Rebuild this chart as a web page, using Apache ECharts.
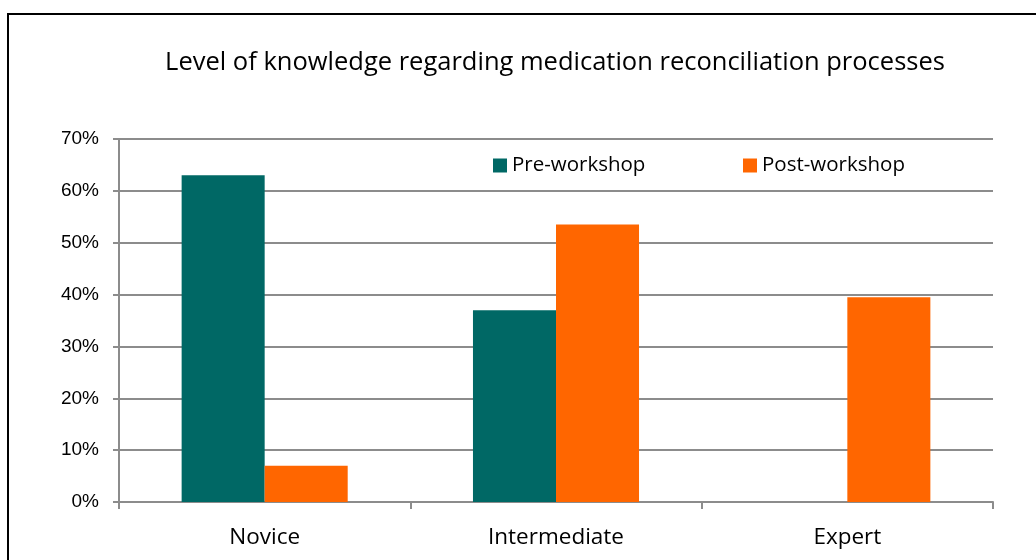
<!DOCTYPE html>
<html>
<head>
<meta charset="utf-8">
<script src="https://cdn.jsdelivr.net/npm/echarts@6/dist/echarts.min.js"></script>
<style>
  html, body { margin: 0; padding: 0; background: #fff; }
  #main { width: 1036px; height: 560px; }
</style>
</head>
<body>
<div id="main"></div>
<script>
const categories = ['Novice', 'Intermediate', 'Expert']
const preWorkshop = [0.63, 0.37, 0]
const postWorkshop = [0.07, 0.535, 0.395]
const yTicks = [0, 0.1, 0.2, 0.3, 0.4, 0.5, 0.6, 0.7]

const chart = echarts.init(document.getElementById('main'))
const gray = '#8c8c8c'
const sans = '"Open Sans", sans-serif'

chart.setOption({
  animation: false,
  title: {
    text: 'Level of knowledge regarding medication reconciliation processes',
    left: 550,
    textAlign: 'center',
    top: 45,
    textStyle: { fontFamily: sans, fontWeight: 'normal', fontSize: 25.5, color: '#000' }
  },
  legend: [
    {
      data: ['Pre-workshop'], left: 493, top: 155, padding: 0, itemWidth: 14, itemHeight: 14, itemGap: 6,
      icon: 'rect', textStyle: { fontFamily: sans, fontSize: 20.5, color: '#000' }
    },
    {
      data: ['Post-workshop'], left: 743, top: 155, padding: 0, itemWidth: 14, itemHeight: 14, itemGap: 6,
      icon: 'rect', textStyle: { fontFamily: sans, fontSize: 20.5, color: '#000' }
    }
  ],
  grid: { left: 119, right: 43, top: 139, bottom: 58 },
  xAxis: {
    type: 'category',
    data: categories,
    axisLine: { lineStyle: { color: gray, width: 2 } },
    axisTick: { show: true, length: 7, lineStyle: { color: gray, width: 2 } },
    axisLabel: { fontFamily: sans, fontSize: 22.5, color: '#000', margin: 24 }
  },
  yAxis: {
    type: 'value',
    min: yTicks[0],
    max: yTicks[yTicks.length - 1],
    interval: 0.1,
    axisLine: { show: true, lineStyle: { color: gray, width: 2 } },
    axisTick: { show: true, length: 6, lineStyle: { color: gray, width: 2 } },
    splitLine: { lineStyle: { color: gray, width: 2 } },
    axisLabel: {
      fontFamily: '"Liberation Sans", sans-serif', fontSize: 19, color: '#000', margin: 20,
      formatter: v => Math.round(v * 100) + '%'
    }
  },
  series: [
    {
      name: 'Pre-workshop', type: 'bar', data: preWorkshop,
      itemStyle: { color: '#006865' }, barWidth: '28.5%', barGap: '0%'
    },
    {
      name: 'Post-workshop', type: 'bar', data: postWorkshop,
      itemStyle: { color: '#ff6600' }, barWidth: '28.5%', barGap: '0%'
    }
  ],
  graphic: [{
    type: 'rect',
    shape: { x: 8, y: 14, width: 1100, height: 600 },
    style: { fill: 'none', stroke: '#000', lineWidth: 2 },
    silent: true
  }]
})
</script>
</body>
</html>
